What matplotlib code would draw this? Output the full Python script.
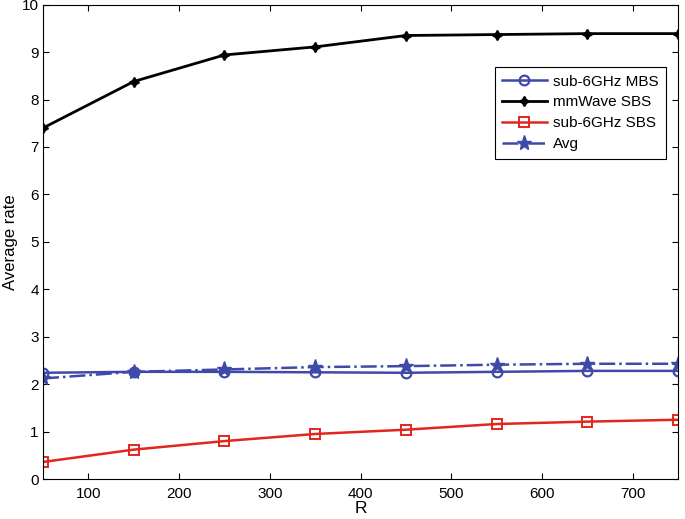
import numpy as np
import matplotlib
matplotlib.use('Agg')
import matplotlib.pyplot as plt

plt.rcParams['font.family'] = ['Liberation Sans', 'DejaVu Sans']

# Data
R = [50, 150, 250, 350, 450, 550, 650, 750]
mbs_sub6 = [2.24, 2.26, 2.26, 2.25, 2.24, 2.26, 2.28, 2.28]
sbs_mmwave = [7.40, 8.38, 8.94, 9.11, 9.35, 9.37, 9.39, 9.39]
sbs_sub6 = [0.36, 0.62, 0.80, 0.95, 1.04, 1.16, 1.21, 1.25]
avg = [2.12, 2.26, 2.31, 2.36, 2.38, 2.41, 2.43, 2.43]

blue = '#3f4aa8'
red = '#e2261c'

fig = plt.figure(figsize=(6.85, 5.19), dpi=100)
ax = fig.add_axes([0.0628, 0.077, 0.927, 0.914])

ax.plot(R, mbs_sub6, '-o', color=blue, lw=1.8, ms=7, mfc='none', mew=1.6, label='sub-6GHz MBS')
ax.plot(R, sbs_mmwave, '-', color='black', marker=(4, 1, 0), lw=2.0, ms=7, mew=1.3, label='mmWave SBS')
ax.plot(R, sbs_sub6, '-s', color=red, lw=1.8, ms=7, mfc='none', mew=1.4, label='sub-6GHz SBS')
ax.plot(R, avg, '-.*', color=blue, lw=1.8, ms=11, label='Avg')

ax.set_xlim(50, 750)
ax.set_ylim(0, 10)
ax.set_xticks(np.arange(100, 701, 100))
ax.set_yticks(np.arange(0, 11, 1))
ax.tick_params(direction='in', top=True, right=True, labelsize=11, length=4)
ax.tick_params(axis='x', pad=6)
ax.tick_params(axis='y', pad=3)
ax.set_xlabel('R', fontsize=12.5, labelpad=0)
ax.set_ylabel('Average rate', fontsize=12, labelpad=3)

leg = ax.legend(loc='upper right', bbox_to_anchor=(0.993, 0.885), fontsize=11,
                fancybox=False, edgecolor='black', framealpha=1,
                handlelength=2.9, borderpad=0.5, labelspacing=0.45, handletextpad=0.4)
leg.get_frame().set_linewidth(0.8)

fig.savefig('out.png', dpi=100)
